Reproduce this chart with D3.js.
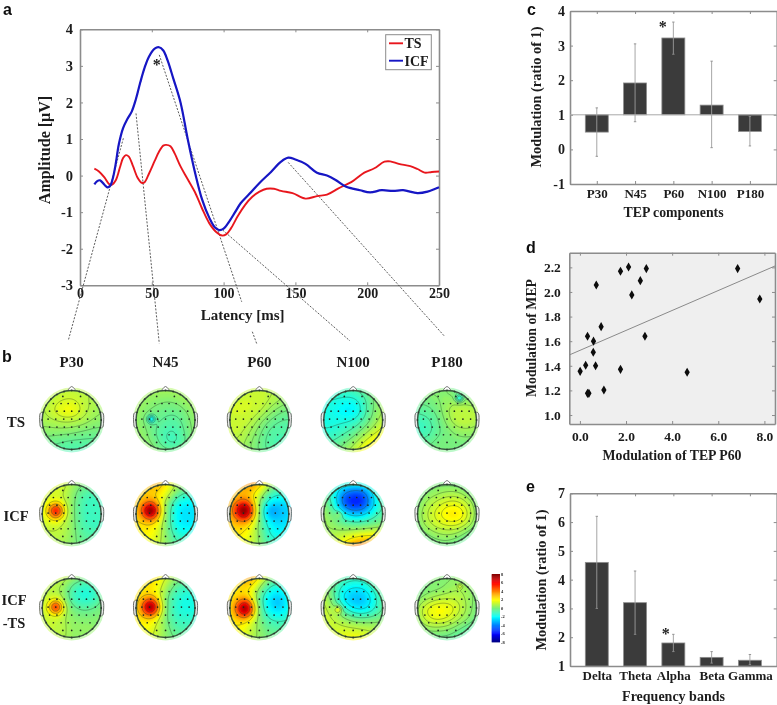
<!DOCTYPE html>
<html><head><meta charset="utf-8">
<script src="https://cdn.jsdelivr.net/npm/d3@7"></script>
<style>
html,body{margin:0;padding:0;background:#fff}
svg{display:block}
text{font-family:"Liberation Serif",serif;font-weight:bold;fill:#1c1c1c}
.letter{font-family:"Liberation Sans",sans-serif;font-size:16px;fill:#111}
</style></head><body>
<svg id="chart" width="777" height="705"></svg>
<script>
// ---- panel a ----
const tsCurve=[[10,.19],[13,.12],[17,-.05],[20,-.22],[22,-.25],[25,-.12],[28,.25],[30,.48],[32,.56],[34,.52],[37,.25],[40,-.05],[43,-.2],[45,-.18],[48,.05],[52,.4],[55,.65],[58,.82],[60,.84],[63,.8],[66,.6],[70,.25],[75,-.1],[80,-.45],[85,-.9],[90,-1.3],[95,-1.55],[99,-1.64],[102,-1.6],[105,-1.45],[110,-1.1],[115,-.8],[120,-.58],[125,-.44],[130,-.36],[135,-.36],[140,-.42],[148,-.48],[157,-.63],[165,-.56],[172,-.52],[180,-.35],[190,-.15],[198,.08],[205,.2],[212,.38],[216,.39],[222,.32],[230,.26],[235,.18],[240,.08],[245,.1],[250,.11]];
const icfCurve=[[10,-.24],[12,-.15],[14,-.13],[17,-.25],[19,-.32],[21,-.28],[23,-.05],[25,.35],[27,.85],[30,1.3],[33,1.55],[36,1.75],[39,2.1],[42,2.55],[45,2.95],[48,3.25],[52,3.47],[55,3.51],[58,3.42],[61,3.15],[65,2.65],[70,2],[75,1],[80,.1],[85,-.65],[90,-1.15],[94,-1.42],[97,-1.49],[100,-1.45],[104,-1.25],[108,-1],[112,-.75],[118,-.5],[125,-.2],[133,.1],[140,.38],[145,.49],[150,.44],[157,.32],[165,.08],[172,0],[178,-.12],[185,-.3],[195,-.4],[202,-.46],[210,-.4],[218,-.42],[225,-.4],[235,-.48],[242,-.44],[250,-.32]];
const guideLines=[[[30.2,1.02],[-8.1,-4.5]],[[39,1.7],[55.2,-4.59]],[[55.2,3.3],[112.6,-3.45]],[[120,-4.27],[123,-4.59]],[[99.4,-1.49],[188,-4.52]],[[145,.36],[254,-4.4]]];
const latencyTicks=[0,50,100,150,200,250];
const amplitudeTicks=[-3,-2,-1,0,1,2,3,4];
// ---- panel c ----
const tepNames=["P30","N45","P60","N100","P180"];
const tepValues=[.5,1.92,3.22,1.28,.52];
const tepLow=[-.2,.8,2.75,.05,.1];
const tepHigh=[1.2,3.05,3.68,2.55,.95];
// ---- panel d ----
const tepMod=[.01,.25,.68,.33,.59,.58,.71,.92,1.04,.33,.39,1.76,1.76,2.11,2.25,2.62,2.88,2.82,4.65,6.84,7.8];
const mepMod=[1.355,1.404,1.4,1.64,1.6,1.51,2.057,1.718,1.203,1.176,1.176,1.371,2.168,2.203,1.976,2.092,2.19,1.64,1.347,2.19,1.943];
const trend=[[-.46,1.488],[8.46,2.211]];
// ---- panel e ----
const bandNames=["Delta","Theta","Alpha","Beta","Gamma"];
const bandValues=[4.6,3.2,1.8,1.3,1.2];
const bandLow=[3,2.1,1.5,1.1,1.05];
const bandHigh=[6.2,4.3,2.1,1.5,1.4];
// ---- panel b: topographies, top row of each grid = anterior ----
const mapColumns=["P30","N45","P60","N100","P180"];
const mapRows=["TS","ICF","ICF-TS"];
const colorbarTicks=[8,6,4,2,0,-2,-4,-6,-8];
const tsP30=[[1,1,1.1,1.1,1.1,1,.9],[.9,1,1.3,1.4,1.1,.9,.8],[.9,1.3,2.1,2.3,1.3,.8,.6],[.8,.9,1.1,1.1,.9,.5,.4],[.4,.4,.4,.3,.1,0,0],[-.1,-.1,-.3,-.4,-.4,-.4,-.4],[-.5,-.6,-.6,-.8,-.8,-.8,-.8]];
const tsN45=[[.9,.9,.9,.8,.9,.9,.9],[.9,.6,.4,.3,.4,.8,.9],[.8,.3,.1,-.1,-.1,.3,.8],[.6,.1,-.1,-.4,-.5,.1,.6],[.6,.4,-.3,-.8,-.8,0,.6],[.8,.5,0,-.9,-1,-.1,.6],[.9,.8,.5,.1,0,.4,.8]];
const tsP60=[[1.3,1.3,1.3,1.3,1.1,1,.8],[1.4,1.4,1.4,1.4,1.1,.8,.4],[1.4,1.4,1.5,1.3,.6,.1,0],[1.4,1.4,1.3,.5,-.1,-.4,-.4],[1.3,1.3,.8,.1,-.5,-.6,-.5],[1.1,1,.5,-.1,-.6,-.8,-.5],[1,.9,.4,0,-.5,-.6,-.5]];
const tsN100=[[-.8,-.8,-.8,-.6,-.1,.4,.6],[-1.4,-1.3,-1.4,-1.5,-.8,.3,.8],[-1.5,-1.5,-2.3,-2.5,-.9,.3,.9],[-1.5,-1.5,-1.5,-1.3,-.5,.5,1.4],[-1.3,-1.3,-.9,-.4,.4,1.3,2],[-.8,-.6,-.1,.5,1.6,2.5,2.5],[-.4,0,.5,1.3,2.5,2.8,2.5]];
const tsP180=[[.3,.4,.5,.3,-.4,-.4,.1],[.1,.1,.3,.5,.4,.3,.3],[-.4,-.3,0,.8,1.3,1.1,.9],[-.9,-.8,-.3,.6,1.3,1.3,.9],[-1,-1,-.3,.1,.5,.6,.4],[-.4,-.3,.1,.1,.1,.1,0],[0,.1,.1,0,-.1,-.3,-.3]];
const icfP30=[[1,1.5,1.8,.8,.3,.3,.1],[1.3,1.4,1.4,.5,-.6,-.8,-.8],[1.5,1.6,1.4,.4,-.9,-1,-1],[1.5,1.6,1.4,.4,-.9,-1,-1],[1.3,1.4,1.3,.5,-.8,-.9,-.9],[1,1.1,1.1,.4,-.4,-.6,-.6],[.8,.9,.8,.3,-.1,-.3,-.3]];
const icfN45=[[2.5,3,3.8,2.5,1.1,.5,.1],[2.8,2.9,2.8,2,0,-.8,-1],[2.8,2.8,2.5,.5,-1.9,-2.3,-2.1],[2.8,2.8,2.5,.4,-2.3,-2.5,-2.3],[2.5,2.5,2.3,.3,-2,-2.3,-1.9],[2,2.3,1.9,.4,-1.1,-1.4,-1.3],[1.5,1.8,1.5,.5,-.4,-.5,-.5]];
const icfP60=[[2.5,3.3,4.5,3.3,1,.3,-.1],[2.8,3,3,1.5,-.8,-1.1,-1.1],[3,3,2.5,.1,-2.4,-2.8,-2.3],[3,3,2.5,0,-2.5,-3,-2.4],[2.8,2.8,2.3,.1,-2.1,-2.4,-2],[2.3,2.5,1.9,.3,-1.5,-1.8,-1.5],[1.8,2,1.4,.4,-.6,-.8,-.8]];
const icfN100=[[.1,-.5,-1,-1.3,-1,-.4,.1],[-.1,-1.1,-4,-5,-4.8,-1.3,-.3],[.4,-.6,-5,-6.3,-5.6,-2,-.5],[.9,.3,-1.5,-2.8,-2.3,-.9,-.3],[.8,.5,.1,-.1,-.1,.1,.3],[.8,1,1.3,1.8,2.3,2.5,2.3],[1,1.5,2.5,4.4,4.8,3.8,2.8]];
const icfP180=[[-.6,-.1,.1,.1,0,-.4,-.6],[-.3,.3,.6,.8,.8,.3,-.3],[0,.9,1.3,1.8,1.8,1.1,0],[.3,1.1,1.8,2.6,2.8,1.5,.1],[0,.9,1.3,1.6,1.5,.9,-.1],[-.4,.1,.5,.6,.4,-.3,-.6],[-.8,-.4,-.1,0,-.4,-.8,-.9]];
const difP30=[[1,1.3,1.5,.8,.3,.1,.3],[1,1,.8,-.6,-1.3,-1.1,.3],[1.1,1.3,.9,-1,-1.6,-1.4,.1],[1.3,1.4,1.1,.1,-.4,-.1,.3],[1.1,1.3,1.1,.4,.3,.3,.3],[1.1,1.3,1.1,.5,.6,.5,.4],[1,1.1,1,.5,.5,.5,.4]];
const difN45=[[2.3,2.5,2.8,1.5,.6,.3,0],[2.4,2.5,2.4,.8,-.6,-1,-.9],[2.5,2.5,2.1,.1,-1.3,-1.6,-1.5],[2.5,2.5,2.1,0,-1.4,-1.6,-1.5],[2.3,2.4,1.9,0,-1,-1.1,-1.1],[2,2.1,1.5,.3,-.5,-.6,-.8],[1.5,1.8,1.3,.4,-.1,-.3,-.4]];
const difP60=[[2.3,2.9,4.3,2.5,.4,0,-.1],[2.4,2.5,2.8,.6,-1.3,-1.5,-.8],[2.5,2.5,2.1,-.6,-2.8,-3,-1.1],[2.5,2.5,2.1,-.4,-2.5,-2.9,-1.1],[2.4,2.5,1.9,.1,-1,-1.1,-.8],[2.1,2.4,1.4,.4,-.3,-.4,-.4],[1.6,1.9,1.1,.5,.1,0,0]];
const difN100=[[.4,.1,-.5,-.8,-.5,0,.3],[.8,-.1,-1.5,-2,-1.9,-.6,.1],[1.3,.1,-2.5,-3.3,-3.1,-1.5,0],[1.5,1,-.9,-2.3,-2.5,-1.3,-.1],[1.4,1.3,.8,.1,0,.1,.3],[1.3,1.4,1.5,1.5,1.3,1.1,.9],[1.3,1.5,1.9,2.3,2,1.5,1.3]];
const difP180=[[0,.3,.4,.3,.4,.3,.1],[-.3,.1,.1,.4,.8,.6,.1],[.1,.5,.9,1.1,1.1,.6,0],[.6,1.8,2.4,2.3,1.5,.6,-.1],[.4,1.5,1.9,1.6,.9,.4,-.3],[-.1,.4,.4,.3,-.1,-.6,-.9],[-.5,-.4,-.3,-.3,-.6,-1,-1.1]];
const topoGrids=[[tsP30,tsN45,tsP60,tsN100,tsP180],[icfP30,icfN45,icfP60,icfN100,icfP180],[difP30,difN45,difP60,difN100,difP180]];
// focal peaks: [x, y, amplitude, width] in head units
const topoPeaks=[[[],[[-.5,-.05,-2.2,.09]],[],[],[[.4,-.75,-1.8,.09]]],
 [[[-.55,-.12,4.2,.19]],[[-.52,-.13,5.3,.21]],[[-.52,-.13,5.3,.24],[.33,-.1,-1,.2]],[[-.5,0,1.3,.09]],[]],
 [[[-.55,-.05,3.9,.17]],[[-.52,-.05,5.3,.21]],[[-.5,0,5.3,.22]],[[-.52,.03,2,.08]],[[.42,-.75,1,.05]]]];
const electrodeRows=[[-.8,[-.3,.3]],[-.56,[-.62,-.36,-.12,.12,.36,.62]],[-.3,[-.75,-.5,-.25,0,.25,.5,.75]],[-.03,[-.8,-.54,-.27,0,.27,.54,.8]],[.24,[-.75,-.5,-.25,0,.25,.5,.75]],[.5,[-.62,-.36,-.12,.12,.36,.62]],[.76,[-.3,0,.3]]];

const svg=d3.select("#chart");
const defs=svg.append("defs");
defs.append("filter").attr("id","soft").attr("x","-5%").attr("y","-5%").attr("width","110%").attr("height","110%")
  .append("feGaussianBlur").attr("stdDeviation",.45);
defs.append("filter").attr("id","softMap").attr("x","-10%").attr("y","-10%").attr("width","120%").attr("height","120%")
  .append("feGaussianBlur").attr("stdDeviation",.8);
const root=svg.append("g").attr("filter","url(#soft)");
const axisColor="#8c8c8c";
const label=(g,x,y,s,size,anchor="middle",rot=0)=>g.append("text")
  .attr("transform",`translate(${x},${y})`+(rot?` rotate(${rot})`:""))
  .attr("text-anchor",anchor).attr("font-size",size).text(s);
function frame(g,x,y,xTicks,yTicks,opt={}){
  const [x0,x1]=x.range(),[y0,y1]=y.range();
  const ax=g.append("g").attr("class","axes");
  const xa=d3.axisBottom(x).tickValues(xTicks).tickSizeInner(-3).tickSizeOuter(0).tickPadding(opt.xPad).tickFormat(opt.xFmt||(d=>d));
  const ya=d3.axisLeft(y).tickValues(yTicks).tickSizeInner(-3).tickSizeOuter(0).tickPadding(opt.yPad).tickFormat(opt.yFmt||(d=>d));
  const gx=ax.append("g").attr("transform",`translate(0,${y0})`).call(xa);
  const gy=ax.append("g").attr("transform",`translate(${x0},0)`).call(ya);
  ax.append("g").attr("transform",`translate(0,${y1})`).call(d3.axisTop(x).tickValues(xTicks).tickSizeInner(-3).tickSizeOuter(0).tickFormat(""));
  ax.append("g").attr("transform",`translate(${x1},0)`).call(d3.axisRight(y).tickValues(yTicks).tickSizeInner(-3).tickSizeOuter(0).tickFormat(""));
  ax.selectAll("path.domain").attr("stroke",axisColor).attr("stroke-width",1.6);
  ax.selectAll("line").attr("stroke",axisColor).attr("stroke-width",1);
  ax.selectAll("g").attr("font-family",null);
  gx.selectAll("text").attr("font-size",opt.xSize).attr("fill","#1c1c1c");
  gy.selectAll("text").attr("font-size",opt.ySize).attr("fill","#1c1c1c");
}
// ===== a =====
const ax=d3.scaleLinear().domain([0,250]).range([80,439]);
const ay=d3.scaleLinear().domain([-3,4]).range([285.3,29.3]);
const pa=root.append("g");
frame(pa,ax,ay,latencyTicks,amplitudeTicks,{xPad:3,yPad:7,xSize:14,ySize:14.5});
const aline=d3.line().x(d=>ax(d[0])).y(d=>ay(d[1])).curve(d3.curveCatmullRom);
pa.selectAll("path.guide").data(guideLines).join("path").attr("class","guide")
  .attr("d",d3.line().x(d=>ax(d[0])).y(d=>ay(d[1]))).attr("fill","none")
  .attr("stroke","#333").attr("stroke-width",.8).attr("stroke-dasharray","2 1.5");
pa.append("path").attr("d",aline(tsCurve)).attr("fill","none").attr("stroke","#e8171f").attr("stroke-width",1.9);
pa.append("path").attr("d",aline(icfCurve)).attr("fill","none").attr("stroke","#1414c4").attr("stroke-width",2.2);
label(pa,ax(53.5),ay(2.88),"*",16);
label(pa,242.7,320,"Latency [ms]",15);
label(pa,50,150,"Amplitude [µV]",16,"middle",-90);
const lg=pa.append("g");
lg.append("rect").attr("x",385.7).attr("y",34.7).attr("width",45.6).attr("height",35).attr("fill","#fff").attr("stroke",axisColor).attr("stroke-width",1);
[["TS","#e8171f",43.3],["ICF","#1414c4",60.7]].forEach(([t,c,y])=>{
  lg.append("line").attr("x1",389).attr("x2",403).attr("y1",y).attr("y2",y).attr("stroke",c).attr("stroke-width",1.9);
  label(lg,404.5,y+5,t,14,"start");
});
// ===== bars =====
function barPanel(names,vals,lo,hi,yDomain,yRange,yTicks,base){
  const g=root.append("g");
  const x=d3.scaleLinear().domain([.3,5.7]).range([570,776.7]);
  const y=d3.scaleLinear().domain(yDomain).range(yRange);
  frame(g,x,y,d3.range(1,6),yTicks,{xFmt:i=>names[i-1],xPad:5,yPad:5,xSize:13,ySize:14});
  g.selectAll("rect.bar").data(vals).join("rect").attr("class","bar")
    .attr("x",(d,i)=>x(i+1-.3)).attr("width",x(1.6)-x(1))
    .attr("y",d=>y(Math.max(d,base))).attr("height",d=>Math.abs(y(d)-y(base)))
    .attr("fill","#3b3b3b").attr("stroke","#8d8d8d").attr("stroke-width",.8);
  g.selectAll("line.err").data(vals).join("line").attr("class","err")
    .attr("x1",(d,i)=>x(i+1)).attr("x2",(d,i)=>x(i+1))
    .attr("y1",(d,i)=>y(lo[i])).attr("y2",(d,i)=>y(hi[i]))
    .attr("stroke","#9c9c9c").attr("stroke-width",.9);
  [lo,hi].forEach(arr=>g.selectAll(null).data(arr).join("line")
    .attr("x1",(d,i)=>x(i+1)-1.2).attr("x2",(d,i)=>x(i+1)+1.2)
    .attr("y1",d=>y(d)).attr("y2",d=>y(d)).attr("stroke","#8c8c8c").attr("stroke-width",.9));
  return {g,x,y};
}
const c=barPanel(tepNames,tepValues,tepLow,tepHigh,[-1,4],[184,11],[-1,0,1,2,3,4],1);
c.g.append("line").attr("x1",570).attr("x2",776.7).attr("y1",c.y(1)).attr("y2",c.y(1)).attr("stroke","#a8a8a8").attr("stroke-width",1);
label(c.g,c.x(2.72),c.y(3.38),"*",16);
label(c.g,673.5,217,"TEP components",13.8);
label(c.g,541,97,"Modulation (ratio of 1)",14.4,"middle",-90);
const e=barPanel(bandNames,bandValues,bandLow,bandHigh,[1,7],[666,493.3],[1,2,3,4,5,6,7],1);
label(e.g,e.x(2.8),e.y(1.95),"*",16);
label(e.g,673.5,701,"Frequency bands",14);
label(e.g,546,580,"Modulation (ratio of 1)",14.4,"middle",-90);
// ===== d =====
const dx=d3.scaleLinear().domain([-.46,8.46]).range([569.3,775]);
const dy=d3.scaleLinear().domain([.927,2.319]).range([424,252.7]);
const pd=root.append("g");
pd.append("rect").attr("x",569.3).attr("y",252.7).attr("width",205.7).attr("height",171.3).attr("fill","#efefef");
frame(pd,dx,dy,[0,2,4,6,8],[1,1.2,1.4,1.6,1.8,2,2.2],{xFmt:d3.format(".1f"),yFmt:d3.format(".1f"),xPad:7,yPad:8.5,xSize:13.5,ySize:13.5});
pd.append("path").attr("d",d3.line().x(d=>dx(d[0])).y(d=>dy(d[1]))(trend)).attr("stroke","#8a8a8a").attr("stroke-width",1).attr("fill","none");
pd.selectAll("path.pt").data(tepMod).join("path").attr("class","pt")
  .attr("transform",(d,i)=>`translate(${dx(d)},${dy(mepMod[i])})`)
  .attr("d",d3.symbol(d3.symbolDiamond,24)).attr("fill","#0a0a0a");
label(pd,672,460,"Modulation of TEP P60",13.8);
label(pd,536,338,"Modulation of MEP",13.8,"middle",-90);
// ===== b =====
const jet=d3.scaleLinear().domain([-8,-6,-2,0,2,6,8]).range(["#00007f","#0000ff","#00ffff","#78f07e","#ffff00","#ff0000","#7f0000"]).clamp(true);
const mapX=d3.scalePoint().domain(mapColumns).range([71.7,447]);
const mapY=d3.scalePoint().domain(mapRows).range([420,608]);
const R=29.5,N=64;
const pb=root.append("g");
mapColumns.forEach(c=>label(pb,mapX(c),367,c,15));
label(pb,16,427,"TS",15);
label(pb,16,521,"ICF",14.5);
label(pb,14,605,"ICF",14.5);
label(pb,14,628,"-TS",14.5);
const fillLevels=d3.range(-8,8.01,.2);
const contours=d3.contours().size([N,N]);
const ring=d3.range(24).map(i=>i*Math.PI/12);
mapRows.forEach((rn,ri)=>mapColumns.forEach((cn,ci)=>{
  const grid=topoGrids[ri][ci],peaks=topoPeaks[ri][ci];
  const rows=grid.map(r=>d3.interpolateBasis(r));
  const values=new Float64Array(N*N);
  let lo=Infinity,hi=-Infinity;
  for(let j=0;j<N;j++)for(let i=0;i<N;i++){
    const u=i/(N-1),v=j/(N-1),hx=u*2.2-1.1,hy=v*2.2-1.1;
    let z=d3.interpolateBasis(rows.map(f=>f(u)))(v);
    peaks.forEach(p=>{const a=hx-p[0],b=hy-p[1];z+=p[2]*Math.exp(-(a*a+b*b)/(2*p[3]*p[3]));});
    values[j*N+i]=z;
    if(hx*hx+hy*hy<1){lo=Math.min(lo,z);hi=Math.max(hi,z);}
  }
  // contour levels per map, spanning that map's own range
  const lineLevels=d3.range(1,6).map(k=>lo+(hi-lo)*k/6);
  const cx=mapX(cn),cy=mapY(rn);
  const proj=d3.geoIdentity().scale(2.2*R/(N-1)).translate([-1.1*R,-1.1*R]);
  const path=d3.geoPath(proj);
  const id=`clip${ri}${ci}`;
  const g=pb.append("g").attr("transform",`translate(${cx},${cy})`);
  defs.append("clipPath").attr("id",id).append("circle").attr("r",R+.6);
  defs.append("clipPath").attr("id",id+"h").append("circle").attr("r",R+3);
  g.append("g").attr("clip-path",`url(#${id}h)`).attr("filter","url(#softMap)").attr("opacity",.45)
    .selectAll("path").data(contours.thresholds(fillLevels)(values)).join("path")
    .attr("d",path).attr("fill",d=>jet(d.value));
  const inner=g.append("g").attr("clip-path",`url(#${id})`);
  inner.append("g").attr("filter","url(#softMap)").selectAll("path").data(contours.thresholds(fillLevels)(values)).join("path")
    .attr("d",path).attr("fill",d=>jet(d.value));
  inner.append("g").selectAll("path").data(contours.thresholds(lineLevels)(values)).join("path")
    .attr("d",path).attr("fill","none").attr("stroke","#27402c").attr("stroke-opacity",.6).attr("stroke-width",.6);
  g.append("path").attr("d",d3.line()([[-4,-R-.2],[-1.5,-R-3.2],[0,-R-4],[1.5,-R-3.2],[4,-R-.2]])).attr("fill","#fff").attr("stroke","#5b5b5b").attr("stroke-width",.8);
  [-1,1].forEach(s=>g.append("path").attr("d",d3.line().curve(d3.curveCatmullRom)([[s*R,-8],[s*(R+2),-6.5],[s*(R+2.4),2],[s*(R+1.6),7],[s*R,8]])).attr("fill","#e9e9e9").attr("stroke","#5e5e5e").attr("stroke-width",.9));
  g.append("circle").attr("r",R).attr("fill","none").attr("stroke","#3a5240").attr("stroke-width",1.4);
  g.selectAll("circle.rim").data(ring).join("circle").attr("class","rim")
    .attr("cx",a=>R*Math.cos(a)).attr("cy",a=>R*Math.sin(a)).attr("r",.9).attr("fill","#2b3b2e");
  electrodeRows.forEach(([ey,xs])=>g.selectAll(null).data(xs).join("circle")
    .attr("cx",d=>d*R).attr("cy",ey*R).attr("r",.85).attr("fill","#1d2a20"));
}));
// colourbar
const cbY=d3.scaleLinear().domain([-8,8]).range([642,574]);
const cb=pb.append("g");
cb.selectAll("rect").data(d3.range(-8,8,.25)).join("rect")
  .attr("x",491.7).attr("width",8.3).attr("y",d=>cbY(d+.25)).attr("height",d=>cbY(d)-cbY(d+.25)+.4)
  .attr("fill",d=>jet(d+.125));
cb.selectAll("text").data(colorbarTicks).join("text")
  .attr("x",501).attr("y",d=>cbY(d)+1.5).attr("font-size",4.5).attr("font-family","Liberation Sans").text(d=>d);
// letters
[["a",3,14.5],["b",2,362],["c",527,14.5],["d",526,253],["e",526,492]].forEach(([t,x,y])=>
  root.append("text").attr("class","letter").attr("x",x).attr("y",y).text(t));
</script>
</body></html>
